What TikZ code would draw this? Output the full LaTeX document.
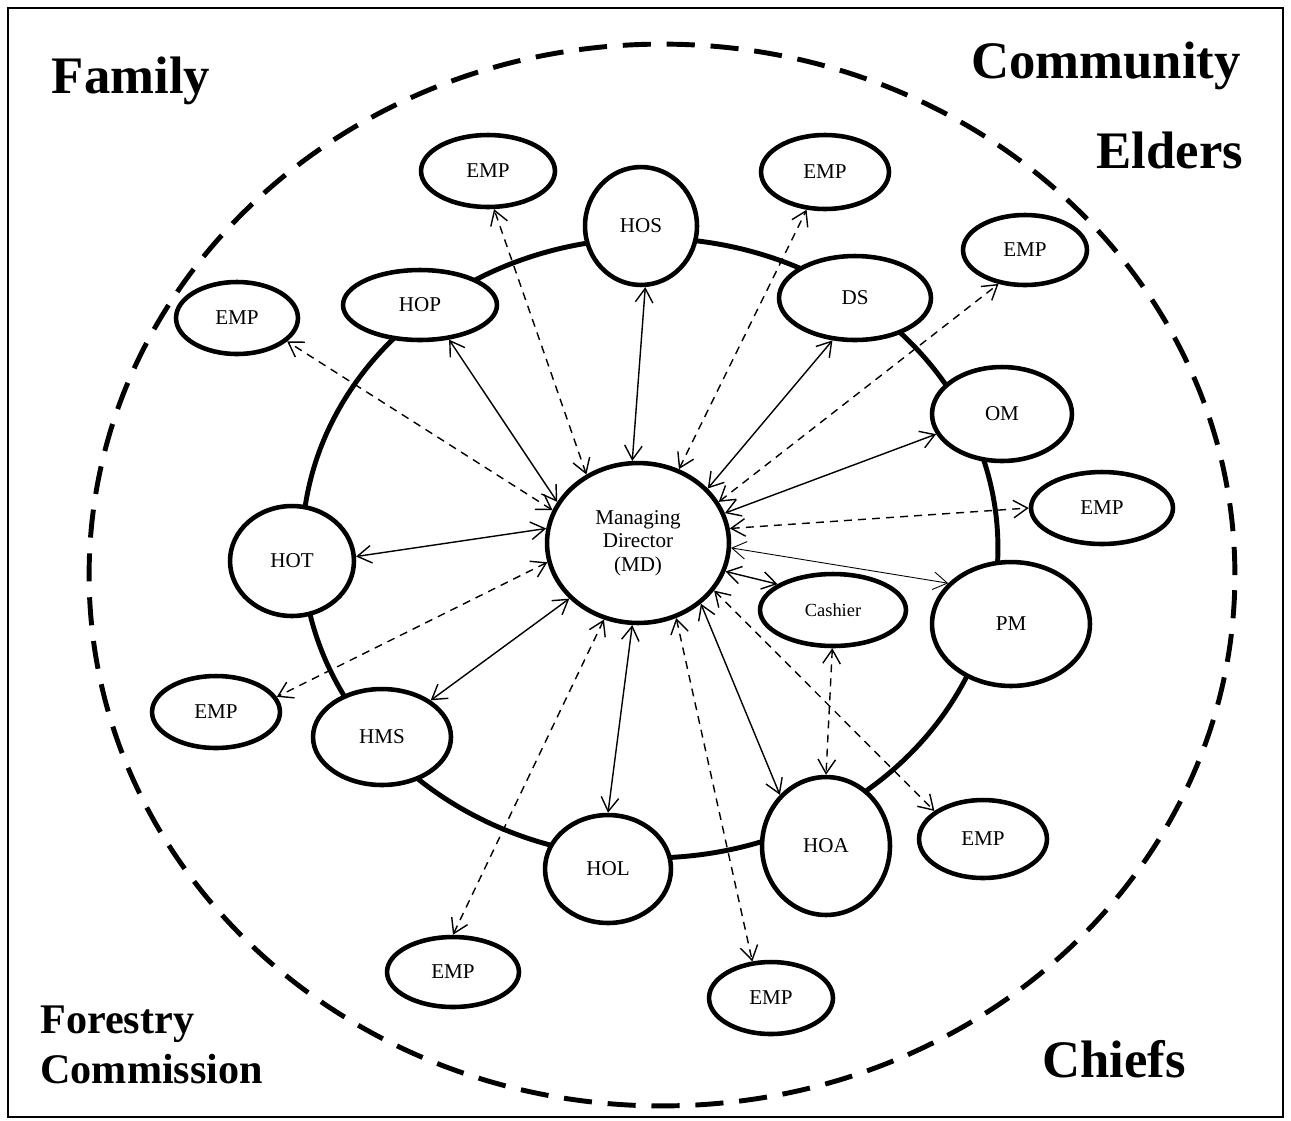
\documentclass[tikz,border=0pt]{standalone}
\usepackage{fontspec}
\setmainfont{Liberation Serif}
\usepackage{tikz}
\usetikzlibrary{shapes.geometric,arrows.meta}

\tikzset{
	ell/.style={ellipse, draw, line width=2.6pt, fill=white, inner sep=0pt, font=\fontsize{12}{13.5}\selectfont},
	sz/.style 2 args={minimum width=#1*0.04cm, minimum height=#2*0.04cm},
	conn/.style={>={Straight Barb[length=8pt,width=10pt]}, <->, line width=0.8pt},
	dconn/.style={conn, dash pattern=on 4.5pt off 3.5pt},
	lab/.style={font=\fontsize{30}{32}\selectfont\bfseries, inner sep=0pt},
}

\begin{document}
\begin{tikzpicture}[x=0.02cm,y=-0.02cm]
	\useasboundingbox (0,0) rectangle (1291,1120);
	\draw[line width=1.3pt] (8,8) rectangle (1283,1117);
	\draw[line width=2.8pt, dash pattern=on 16pt off 9pt] (662,575) ellipse [x radius=11.46cm, y radius=10.62cm];
	\draw[line width=2.8pt] (650,548) ellipse [x radius=6.96cm, y radius=6.2cm];

	\node[ell, sz={91}{80}, align=center] (md) at (638,543) {Managing\\Director\\(MD)};
	\node[ell, sz={56}{59}] (hos) at (641,226) {HOS};
	\node[ell, sz={77}{35}] (hop) at (420,305) {HOP};
	\node[ell, sz={76}{42}] (ds) at (855,298) {DS};
	\node[ell, sz={70}{47}] (om) at (1002,414) {OM};
	\node[ell, sz={79}{62}] (pm) at (1011,624) {PM};
	\node[ell, sz={73}{36}, font=\fontsize{10.5}{12}\selectfont] (cash) at (833,610) {Cashier};
	\node[ell, sz={64}{69}] (hoa) at (826,846) {HOA};
	\node[ell, sz={63}{54}] (hol) at (608,869) {HOL};
	\node[ell, sz={69}{48}] (hms) at (382,737) {HMS};
	\node[ell, sz={62}{55}] (hot) at (292,561) {HOT};

	\node[ell, sz={61}{36}] (empa) at (237,318) {EMP};
	\node[ell, sz={67}{36}] (empb) at (488,171) {EMP};
	\node[ell, sz={64}{37}] (empc) at (825,172) {EMP};
	\node[ell, sz={62}{35}] (empd) at (1025,250) {EMP};
	\node[ell, sz={71}{36}] (empe) at (1102,508) {EMP};
	\node[ell, sz={64}{39}] (empf) at (983,839) {EMP};
	\node[ell, sz={62}{36}] (empg) at (771,998) {EMP};
	\node[ell, sz={66}{35}] (emph) at (453,972) {EMP};
	\node[ell, sz={64}{36}] (empi) at (216,712) {EMP};

	\path[conn]
	(md.153) edge (hop.-50)
	(md.94) edge (hos.-86)
	(md.38) edge (ds.-118)
	(md.19) edge (om.-163)
	(md.-18) edge (cash.155)
	(md.-44) edge (hoa.132)
	(md.-94) edge (hol.90)
	(md.-141) edge (hms.37)
	(md.171) edge (hot.4);
	\path[conn, line width=0.5pt] (md.-3) edge (pm.147);
	\path[dconn]
	(md.159) edge (empa.-25)
	(md.127) edge (empb.-81)
	(md.61) edge (empc.-116)
	(md.27) edge (empd.-128)
	(md.9) edge (empe.180)
	(md.-32) edge (empf.150)
	(md.-63) edge (empg.117)
	(md.-114) edge (emph.90)
	(md.-168) edge (empi.14)
	(cash.-91) edge (hoa.90);

	\node[lab, anchor=base] (family) at (131,93) {Family};
	\node[lab, anchor=base] (community) at (1106,78) {Community};
	\node[lab, anchor=base] (elders) at (1170,168) {Elders};
	\node[lab, anchor=base] (chiefs) at (1114,1077) {Chiefs};
	\node[lab, anchor=base west, font=\fontsize{24}{26}\selectfont\bfseries] (forestry) at (40,1033) {Forestry};
	\node[lab, anchor=base west, font=\fontsize{24}{26}\selectfont\bfseries] (commission) at (40,1083) {Commission};
\end{tikzpicture}
\end{document}
